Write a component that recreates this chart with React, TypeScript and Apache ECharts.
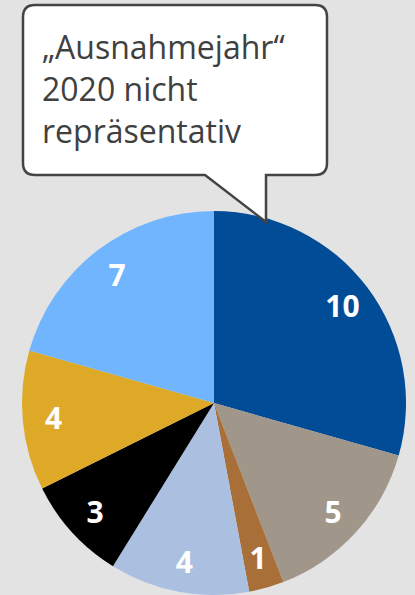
import React, { useEffect, useRef } from "react";
import * as echarts from "echarts";

const categories = ["A", "B", "C", "D", "E", "F", "G"];
const values = [10, 5, 1, 4, 3, 4, 7];
const colors = ["#004C97", "#A0968A", "#A87038", "#ABC0E0", "#000000", "#DDA927", "#70B5FE"];
const bubbleLines = ["„Ausnahmejahr“", "2020 nicht", "repräsentativ"];

const bubblePath =
  "M 35 5 H 315 Q 327 5 327 17 V 163 Q 327 175 315 175 H 266 V 222 L 205 175 H 35 Q 23 175 23 163 V 17 Q 23 5 35 5 Z";

let registered = false;

export default function App() {
  const ref = useRef<HTMLDivElement>(null);
  useEffect(() => {
    if (!ref.current) return;
    if (!registered) {
      echarts.graphic.registerShape("bubble", echarts.graphic.extendPath(bubblePath, {}));
      registered = true;
    }
    const chart = echarts.init(ref.current, null, { renderer: "svg" });
    const data = categories.map((c, i) => ({ name: c, value: values[i], itemStyle: { color: colors[i] } }));
    chart.setOption({
      animation: false,
      backgroundColor: "#E3E3E3",
      series: [
        {
          type: "pie",
          center: [214, 403],
          radius: [0, 192],
          startAngle: 90,
          clockwise: true,
          label: { show: false },
          labelLine: { show: false },
          silent: true,
          data,
          itemStyle: { borderWidth: 0 },
        },
        {
          type: "pie",
          center: [214, 403],
          radius: [126, 190],
          startAngle: 90,
          clockwise: true,
          silent: true,
          itemStyle: { color: "rgba(0,0,0,0)", borderWidth: 0 },
          label: {
            show: true,
            position: "inside",
            formatter: "{c}",
            color: "#FFFFFF",
            fontSize: 30,
            fontWeight: "bold",
            fontFamily: "Open Sans",
          },
          labelLine: { show: false },
          data: categories.map((c, i) => ({ name: c, value: values[i] })),
        },
      ],
      graphic: [
        {
          type: "bubble",
          x: 0,
          y: 0,
          z: 100,
          shape: {},
          style: { fill: "#FFFFFF", stroke: "#444444", lineWidth: 2.5 },
        },
        ...bubbleLines.map((t, i) => ({
          type: "text",
          left: 42,
          top: 30 + i * 42,
          z: 101,
          style: {
            text: t,
            fill: "#404040",
            fontSize: 32,
            fontFamily: "Open Sans",
          },
        })),
      ],
    });
    return () => chart.dispose();
  }, []);
  return (
    <div
      ref={ref}
      style={{ position: "absolute", left: 0, top: 0, width: 415, height: 595 }}
    />
  );
}
